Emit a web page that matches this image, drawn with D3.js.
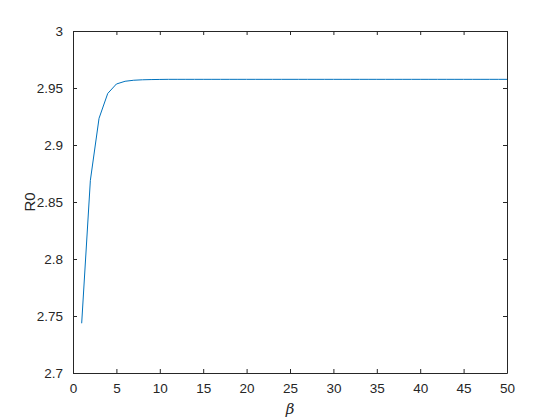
<!DOCTYPE html>
<meta charset="utf-8">
<script src="https://d3js.org/d3.v7.min.js"></script>
<style>
  body { margin: 0; background: #fff; }
  text { font-family: "Liberation Sans", Arial, sans-serif; }
</style>
<div id="chart"></div>
<script>

// beta values and R0
var betas = d3.range(1, 51)
var r0 = [2.7436, 2.869, 2.9234, 2.9452, 2.9535, 2.9559, 2.9568, 2.9572, 2.9574, 2.9575,
          2.9576, 2.9576, 2.9576, 2.9576, 2.9576, 2.9576, 2.9576, 2.9576, 2.9576, 2.9576,
          2.9576, 2.9576, 2.9576, 2.9576, 2.9576, 2.9576, 2.9576, 2.9576, 2.9576, 2.9576,
          2.9576, 2.9576, 2.9576, 2.9576, 2.9576, 2.9576, 2.9576, 2.9576, 2.9576, 2.9576,
          2.9576, 2.9576, 2.9576, 2.9576, 2.9576, 2.9576, 2.9576, 2.9576, 2.9576, 2.9576]
var xTicks = [0, 5, 10, 15, 20, 25, 30, 35, 40, 45, 50]
var yTicks = [2.7, 2.75, 2.8, 2.85, 2.9, 2.95, 3]

var width = 560,
    height = 420,
    pLeft = 73, pTop = 31, pRight = 507, pBottom = 373

var svg = d3.select("#chart")
  .append("svg")
    .attr("width", width)
    .attr("height", height)

var x = d3.scaleLinear().domain([0, 50]).range([pLeft, pRight])
var y = d3.scaleLinear().domain([2.7, 3]).range([pBottom, pTop])

var axisColor = "#262626"

// bottom / left axes with inward ticks
svg.append("g")
  .attr("transform", "translate(0," + pBottom + ")")
  .call(d3.axisBottom(x).tickValues(xTicks).tickSizeInner(-4).tickSizeOuter(0).tickPadding(10)
    .tickFormat(d3.format("d")))
svg.append("g")
  .attr("transform", "translate(" + pLeft + ",0)")
  .call(d3.axisLeft(y).tickValues(yTicks).tickSizeInner(-4).tickSizeOuter(0).tickPadding(10)
    .tickFormat(function(d) { return String(+d.toFixed(2)) }))

// top / right box lines with ticks
svg.append("g")
  .attr("transform", "translate(0," + pTop + ")")
  .call(d3.axisTop(x).tickValues(xTicks).tickSizeInner(-4).tickSizeOuter(0).tickFormat(""))
svg.append("g")
  .attr("transform", "translate(" + pRight + ",0)")
  .call(d3.axisRight(y).tickValues(yTicks).tickSizeInner(-4).tickSizeOuter(0).tickFormat(""))

svg.selectAll(".domain, .tick line").attr("stroke", axisColor).attr("stroke-width", 1)
svg.selectAll(".tick text").attr("fill", axisColor).style("font-size", "13.5px")
  .style("font-family", "'Liberation Sans', Arial, sans-serif")

// the curve
svg.append("path")
  .datum(betas.map(function(b, i) { return [b, r0[i]] }))
  .attr("fill", "none")
  .attr("stroke", "#0072BD")
  .attr("stroke-width", 1)
  .attr("d", d3.line().x(function(d) { return x(d[0]) }).y(function(d) { return y(d[1]) }))

// labels
svg.append("text")
  .attr("x", (pLeft + pRight) / 2).attr("y", 414)
  .attr("text-anchor", "middle")
  .style("font-family", "'DejaVu Serif', 'Liberation Serif', serif")
  .style("font-style", "italic")
  .style("font-size", "15px")
  .attr("fill", axisColor)
  .text("β")

svg.append("text")
  .attr("transform", "translate(35," + (pTop + pBottom) / 2 + ") rotate(-90)")
  .attr("text-anchor", "middle")
  .style("font-size", "15px")
  .attr("fill", axisColor)
  .text("R0")

</script>
